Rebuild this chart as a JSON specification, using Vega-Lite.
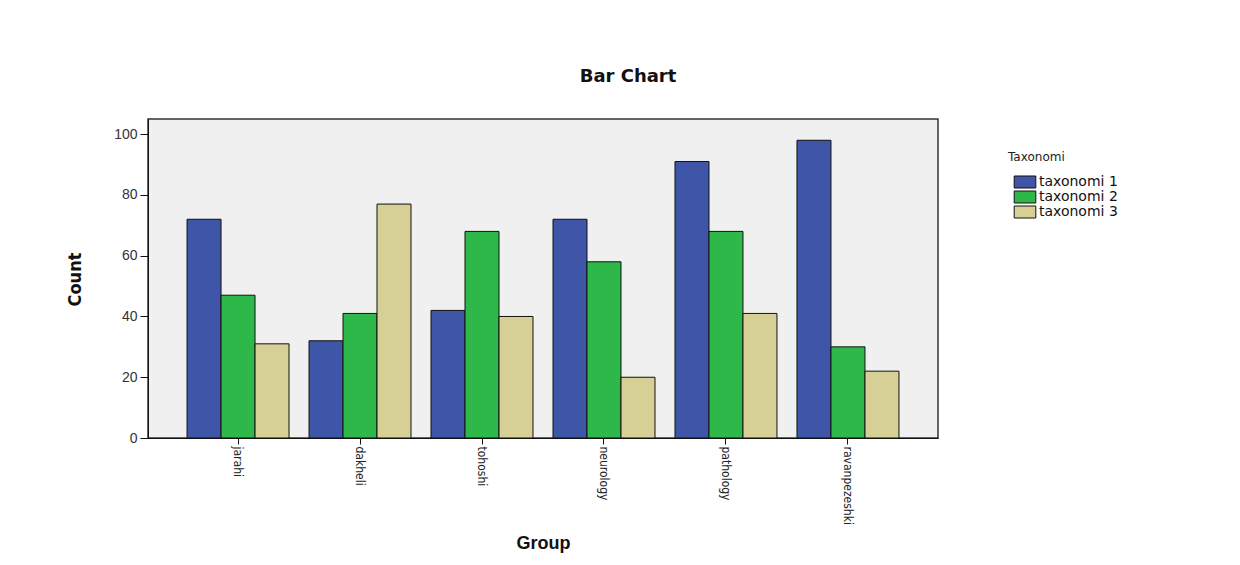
{
  "$schema": "https://vega.github.io/schema/vega-lite/v6.json",
  "width": 790,
  "height": 319,
  "autosize": {"type": "none"},
  "padding": {"left": 148, "top": 119, "right": 302, "bottom": 127},
  "background": "white",
  "title": {
    "text": "Bar Chart",
    "font": "DejaVu Sans",
    "fontSize": 18,
    "fontWeight": "bold",
    "color": "#111111",
    "anchor": "middle",
    "dx": 85,
    "offset": 33
  },
  "data": {
    "values": [
      {"group": "jarahi", "tax": "taxonomi 1", "count": 72},
      {"group": "jarahi", "tax": "taxonomi 2", "count": 47},
      {"group": "jarahi", "tax": "taxonomi 3", "count": 31},
      {"group": "dakheli", "tax": "taxonomi 1", "count": 32},
      {"group": "dakheli", "tax": "taxonomi 2", "count": 41},
      {"group": "dakheli", "tax": "taxonomi 3", "count": 77},
      {"group": "tohoshi", "tax": "taxonomi 1", "count": 42},
      {"group": "tohoshi", "tax": "taxonomi 2", "count": 68},
      {"group": "tohoshi", "tax": "taxonomi 3", "count": 40},
      {"group": "neurology", "tax": "taxonomi 1", "count": 72},
      {"group": "neurology", "tax": "taxonomi 2", "count": 58},
      {"group": "neurology", "tax": "taxonomi 3", "count": 20},
      {"group": "pathology", "tax": "taxonomi 1", "count": 91},
      {"group": "pathology", "tax": "taxonomi 2", "count": 68},
      {"group": "pathology", "tax": "taxonomi 3", "count": 41},
      {"group": "ravanpezeshki", "tax": "taxonomi 1", "count": 98},
      {"group": "ravanpezeshki", "tax": "taxonomi 2", "count": 30},
      {"group": "ravanpezeshki", "tax": "taxonomi 3", "count": 22}
    ]
  },
  "mark": {"type": "bar", "stroke": "#111111", "strokeWidth": 1},
  "encoding": {
    "x": {
      "field": "group",
      "type": "nominal",
      "sort": null,
      "scale": {"paddingInner": 0.164, "paddingOuter": 0.32},
      "axis": {
        "title": "Group",
        "titleFont": "Liberation Sans",
        "titleFontSize": 18,
        "titleFontWeight": "bold",
        "titleColor": "#111111",
        "titleX": 395,
        "titleY": 105,
        "titleBaseline": "middle",
        "labelAngle": 90,
        "labelAlign": "left",
        "labelBaseline": "middle",
        "labelFont": "DejaVu Sans Condensed",
        "labelFontSize": 12,
        "labelColor": "#222222",
        "labelPadding": 2,
        "tickColor": "#111111",
        "tickSize": 6,
        "domainColor": "#111111"
      }
    },
    "xOffset": {"field": "tax", "type": "nominal", "scale": {"paddingInner": 0, "paddingOuter": 0}},
    "y": {
      "field": "count",
      "type": "quantitative",
      "scale": {"domain": [0, 105], "nice": false},
      "axis": {
        "title": "Count",
        "titleFont": "DejaVu Sans Condensed",
        "titleFontSize": 18,
        "titleFontWeight": "bold",
        "titleColor": "#111111",
        "titleX": -73,
        "titleY": 160,
        "titleAngle": -90,
        "titleAlign": "center",
        "titleBaseline": "middle",
        "values": [0, 20, 40, 60, 80, 100],
        "grid": false,
        "labelFont": "Liberation Sans",
        "labelFontSize": 14,
        "labelColor": "#333333",
        "labelPadding": 3,
        "tickColor": "#111111",
        "tickSize": 8,
        "domainColor": "#111111"
      }
    },
    "fill": {
      "field": "tax",
      "type": "nominal",
      "scale": {"range": ["#3f55a8", "#2fb84a", "#d6cf96"]},
      "legend": {
        "title": "Taxonomi",
        "orient": "none",
        "legendX": 860,
        "legendY": 33,
        "titleFont": "DejaVu Sans",
        "titleFontSize": 12,
        "titleFontWeight": "normal",
        "titleColor": "#222222",
        "titlePadding": 11,
        "labelFont": "DejaVu Sans",
        "labelFontSize": 14,
        "labelColor": "#111111",
        "labelOffset": 7,
        "rowPadding": -1,
        "symbolType": "M-1.8,-1H1.8V1H-1.8Z",
        "symbolSize": 144,
        "symbolStrokeColor": "#111111",
        "symbolStrokeWidth": 1,
        "symbolOffset": 10
      }
    }
  },
  "config": {
    "view": {"fill": "#f0f0f0", "stroke": "#333333", "strokeWidth": 1.5}
  }
}
